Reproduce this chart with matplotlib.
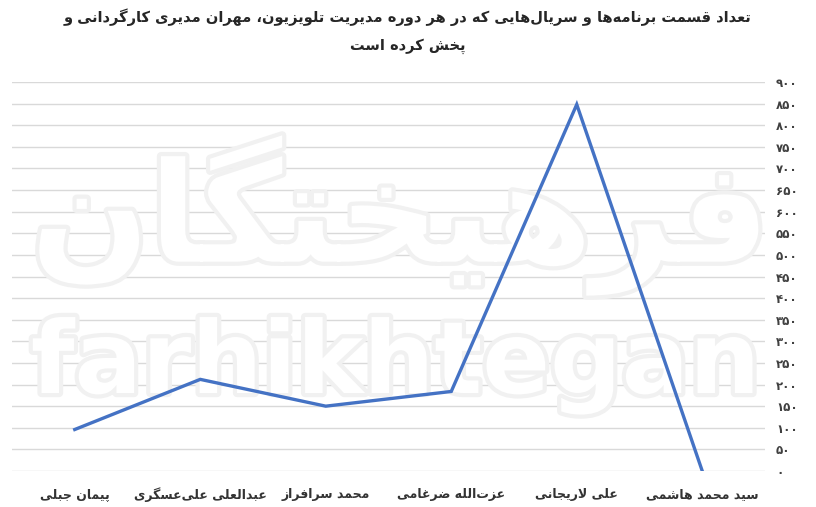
import matplotlib
matplotlib.use("Agg")
import matplotlib.pyplot as plt
import matplotlib.patheffects as pe
from matplotlib.ticker import FixedLocator

# data (logical order, right to left on the chart)
categories = ["سید محمد هاشمی", "علی لاریجانی", "عزت‌الله ضرغامی",
              "محمد سرافراز", "عبدالعلی علی‌عسگری", "پیمان جبلی"]
episodes = [0, 848, 184, 150, 212, 96]
yticks = list(range(0, 901, 50))
title_lines = ["تعداد قسمت برنامه‌ها و سریال‌هایی که در هر دوره مدیریت تلویزیون، مهران مدیری کارگردانی و",
               "پخش کرده است"]

# matplotlib has no arabic shaping, so pick presentation forms by hand
# letter: (isolated, final, initial, medial); 2-tuples do not join to the next letter
FORMS = {
    "ء": (0xFE80,), "آ": (0xFE81, 0xFE82), "أ": (0xFE83, 0xFE84),
    "ؤ": (0xFE85, 0xFE86), "إ": (0xFE87, 0xFE88),
    "ئ": (0xFE89, 0xFE8A, 0xFE8B, 0xFE8C), "ا": (0xFE8D, 0xFE8E),
    "ب": (0xFE8F, 0xFE90, 0xFE91, 0xFE92), "ة": (0xFE93, 0xFE94),
    "ت": (0xFE95, 0xFE96, 0xFE97, 0xFE98), "ث": (0xFE99, 0xFE9A, 0xFE9B, 0xFE9C),
    "ج": (0xFE9D, 0xFE9E, 0xFE9F, 0xFEA0), "ح": (0xFEA1, 0xFEA2, 0xFEA3, 0xFEA4),
    "خ": (0xFEA5, 0xFEA6, 0xFEA7, 0xFEA8), "د": (0xFEA9, 0xFEAA),
    "ذ": (0xFEAB, 0xFEAC), "ر": (0xFEAD, 0xFEAE), "ز": (0xFEAF, 0xFEB0),
    "س": (0xFEB1, 0xFEB2, 0xFEB3, 0xFEB4), "ش": (0xFEB5, 0xFEB6, 0xFEB7, 0xFEB8),
    "ص": (0xFEB9, 0xFEBA, 0xFEBB, 0xFEBC), "ض": (0xFEBD, 0xFEBE, 0xFEBF, 0xFEC0),
    "ط": (0xFEC1, 0xFEC2, 0xFEC3, 0xFEC4), "ظ": (0xFEC5, 0xFEC6, 0xFEC7, 0xFEC8),
    "ع": (0xFEC9, 0xFECA, 0xFECB, 0xFECC), "غ": (0xFECD, 0xFECE, 0xFECF, 0xFED0),
    "ف": (0xFED1, 0xFED2, 0xFED3, 0xFED4), "ق": (0xFED5, 0xFED6, 0xFED7, 0xFED8),
    "ل": (0xFEDD, 0xFEDE, 0xFEDF, 0xFEE0), "م": (0xFEE1, 0xFEE2, 0xFEE3, 0xFEE4),
    "ن": (0xFEE5, 0xFEE6, 0xFEE7, 0xFEE8), "ه": (0xFEE9, 0xFEEA, 0xFEEB, 0xFEEC),
    "و": (0xFEED, 0xFEEE), "ي": (0xFEF1, 0xFEF2, 0xFEF3, 0xFEF4),
    "پ": (0xFB56, 0xFB57, 0xFB58, 0xFB59), "چ": (0xFB7A, 0xFB7B, 0xFB7C, 0xFB7D),
    "ژ": (0xFB8A, 0xFB8B), "ک": (0xFB8E, 0xFB8F, 0xFB90, 0xFB91),
    "گ": (0xFB92, 0xFB93, 0xFB94, 0xFB95), "ی": (0xFBFC, 0xFBFD, 0xFBFE, 0xFBFF),
}
LAM_ALEF = {"ا": (0xFEFB, 0xFEFC), "آ": (0xFEF5, 0xFEF6)}


def joins_next(ch):
    return ch in FORMS and len(FORMS[ch]) == 4


def shape(text):
    chars = list(text)
    out = []
    i = 0
    while i < len(chars):
        c = chars[i]
        if c == "\u200c":
            i += 1
            continue
        prev = chars[i - 1] if i > 0 else ""
        join_prev = joins_next(prev) and c in FORMS
        if c == "ل" and i + 1 < len(chars) and chars[i + 1] in LAM_ALEF:
            f = LAM_ALEF[chars[i + 1]]
            out.append(chr(f[1] if join_prev else f[0]))
            i += 2
            continue
        if c not in FORMS:
            out.append(c)
            i += 1
            continue
        nxt = chars[i + 1] if i + 1 < len(chars) else ""
        join_next = joins_next(c) and nxt in FORMS
        f = FORMS[c]
        if join_prev and join_next:
            code = f[3]
        elif join_prev:
            code = f[1] if len(f) > 1 else f[0]
        elif join_next:
            code = f[2]
        else:
            code = f[0]
        out.append(chr(code))
        i += 1
    return "".join(reversed(out))


def fa_digits(n):
    return str(n).translate(str.maketrans("0123456789", "۰۱۲۳۴۵۶۷۸۹"))


plt.rcParams["font.family"] = ["DejaVu Sans"]

fig = plt.figure(figsize=(8.16, 5.07), dpi=100)
ax = fig.add_axes([12 / 816, 36 / 507, 753 / 816, 389 / 507])

# white watermark with a soft grey edge, sitting over the grid
wm_fx = [pe.Stroke(linewidth=6, foreground="#f1f1f1"), pe.Normal()]
ax.text(0.485, 1 - 393 / 507, "farhikhtegan", transform=fig.transFigure,
        fontsize=72, fontweight="bold", color="white", ha="center",
        va="baseline", zorder=2, path_effects=wm_fx)
ax.text(0.49, 0.575, shape("فرهیختگان"), transform=fig.transFigure,
        fontsize=100, fontweight="bold", color="white", ha="center",
        va="center", zorder=2, path_effects=wm_fx)

x = list(range(len(categories)))
ax.plot(x, episodes, color="#4472C4", linewidth=2.4, zorder=3,
        solid_joinstyle="miter")

ax.set_xlim(len(categories) - 0.5, -0.5)
ax.set_ylim(0, 900)
ax.yaxis.set_major_locator(FixedLocator(yticks))
ax.set_yticklabels([fa_digits(v) for v in yticks], fontweight="bold")
ax.yaxis.tick_right()
ax.grid(axis="y", color="#d9d9d9", linewidth=1.0)
ax.set_axisbelow(True)
ax.set_xticks(x)
ax.set_xticklabels([shape(c) for c in categories], fontweight="bold",
                   fontsize=9, color="#333333")
ax.tick_params(axis="y", length=0, pad=8, labelsize=8.5, labelcolor="#404040")
ax.tick_params(axis="x", length=0, pad=12)
for s in ax.spines.values():
    s.set_visible(False)
ax.patch.set_alpha(0)

fig.text(0.5, 1 - 17 / 507, shape(title_lines[0]), ha="center", va="center",
         fontsize=10.5, fontweight="bold", color="#262626")
fig.text(0.5, 1 - 46 / 507, shape(title_lines[1]), ha="center", va="center",
         fontsize=10.5, fontweight="bold", color="#262626")

fig.savefig("out.png", dpi=100)
